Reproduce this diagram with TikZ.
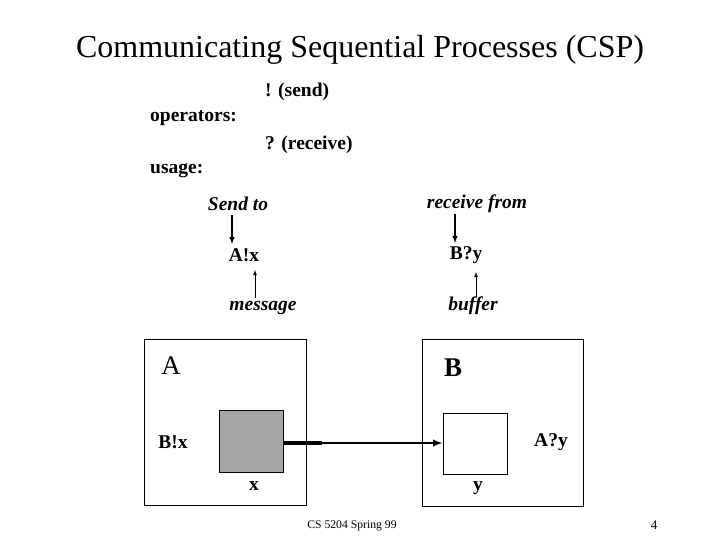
\documentclass[tikz,border=0pt]{standalone}
\usepackage{fontspec}
\setmainfont{Liberation Serif}
\begin{document}
\begin{tikzpicture}[x=1pt,y=-1pt,
  lbl/.style={font=\fontsize{19.5}{22}\selectfont\bfseries,inner sep=0pt},
  ilbl/.style={font=\fontsize{19.5}{22}\selectfont\bfseries\itshape,inner sep=0pt},
  big/.style={font=\fontsize{27}{30}\selectfont,inner sep=0pt},
  arr/.style={-latex,line width=1.4pt},
  box/.style={draw,line width=1pt}]
\useasboundingbox (0,0) rectangle (720,540);
\node[inner sep=0pt,font=\fontsize{32}{36}\selectfont] (title) at (360,50) {Communicating Sequential Processes (CSP)};
\node[lbl,anchor=west] (send) at (265,92) {! (send)};
\node[lbl,anchor=west] (ops) at (150,118) {operators:};
\node[lbl,anchor=west] (recv) at (265,145) {? (receive)};
\node[lbl,anchor=west] (usage) at (150,171) {usage:};
\node[ilbl] (sendto) at (238,204) {Send to};
\node[ilbl] (recfrom) at (477,204) {receive from};
\node[lbl] (ax) at (244,255) {A!x};
\node[lbl] (by) at (466,255) {B?y};
\node[ilbl] (msg) at (263,308) {message};
\node[ilbl] (buf) at (473,306) {buffer};
\coordinate (s1) at (232,215); \coordinate (s2) at (232,244);
\draw[arr] (s1) -- (s2);
\coordinate (m1) at (255,298); \coordinate (m2) at (255,270);
\draw[-latex,line width=0.8pt] (m1) -- (m2);
\coordinate (r1) at (455,214); \coordinate (r2) at (455,243);
\draw[arr] (r1) -- (r2);
\coordinate (b1) at (476,297); \coordinate (b2) at (476,272);
\draw[-latex,line width=0.8pt] (b1) -- (b2);
\node[box,minimum width=162pt,minimum height=166pt] (boxA) at (225.5,422) {};
\node[box,minimum width=161pt,minimum height=167pt] (boxB) at (502.5,422.5) {};
\node[big] (la) at (171,366) {A};
\node[big,font=\fontsize{27}{30}\selectfont\bfseries] (lb) at (453,368) {B};
\node[draw,line width=1pt,fill=gray!82!black!60,minimum width=64pt,minimum height=62pt] (gx) at (251,441) {};
\node[draw,line width=1pt,fill=white,minimum width=64pt,minimum height=61pt] (wy) at (475,443.5) {};
\node[lbl] (bx) at (173,442) {B!x};
\node[lbl] (ay) at (551,442) {A?y};
\node[lbl] (xl) at (254,486) {x};
\node[lbl] (yl) at (478,488) {y};
\coordinate (mid) at (322,443);
\draw[line width=3.5pt] (gx.east |- mid) -- (mid);
\draw[-latex,line width=2.2pt] (mid) -- (wy.west |- mid);
\node[inner sep=0pt,font=\fontsize{11.7}{14}\selectfont] (foot) at (352,526) {CS 5204 Spring 99};
\node[inner sep=0pt,font=\fontsize{13}{15}\selectfont] (pg) at (654,525) {4};
\end{tikzpicture}
\end{document}
